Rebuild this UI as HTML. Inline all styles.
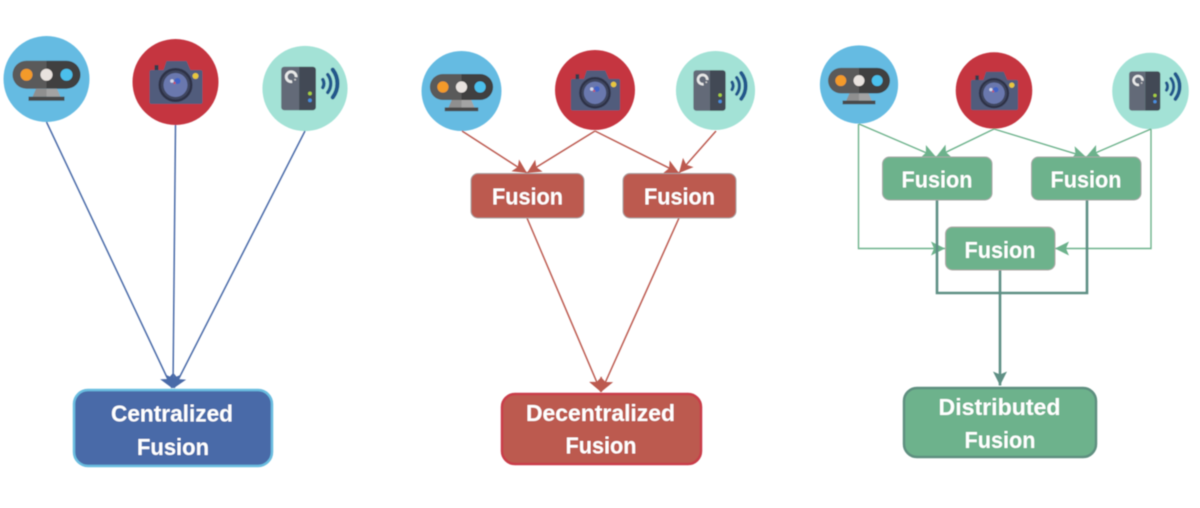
<!DOCTYPE html>
<html>
<head>
<meta charset="utf-8">
<style>
html,body{margin:0;padding:0;background:#fff;width:1200px;height:508px;overflow:hidden}
svg{display:block}
text{font-family:"Liberation Sans",sans-serif;font-weight:700;fill:#fff;text-anchor:middle}
</style>
</head>
<body>
<svg width="1200" height="508" viewBox="0 0 1200 508" xmlns="http://www.w3.org/2000/svg">
<defs>
<filter id="s" x="-5%" y="-5%" width="110%" height="110%"><feGaussianBlur stdDeviation="0.45"/></filter>
<marker id="ab" markerUnits="userSpaceOnUse" markerWidth="20" markerHeight="20" refX="13" refY="10" orient="auto"><path d="M0 3L13 10L0 17L3 10Z" fill="#4a6aa8"/></marker>
<marker id="ar" markerUnits="userSpaceOnUse" markerWidth="16" markerHeight="16" refX="14" refY="8" orient="auto"><path d="M0 1L14 8L0 15L3 8Z" fill="#bc5a50"/></marker>
<marker id="ag" markerUnits="userSpaceOnUse" markerWidth="16" markerHeight="16" refX="14" refY="8" orient="auto"><path d="M0 1L14 8L0 15L3 8Z" fill="#6db28c"/></marker>
<marker id="ad" markerUnits="userSpaceOnUse" markerWidth="16" markerHeight="16" refX="14" refY="8" orient="auto"><path d="M0 1L14 8L0 15L3 8Z" fill="#5f9085"/></marker>
<g id="kin">
<circle r="43" fill="#65bbe2"/>
<path d="M0-18.300H-20A14 14 0 0 0-20 9.700H0Z" fill="#5a5a5a"/>
<path d="M0-18.300H20A14 14 0 0 1 20 9.700H0Z" fill="#3f3f3f"/>
<circle cx="-20" cy="-4.300" r="6" fill="#f39a2b"/>
<circle cx="0" cy="-4.300" r="6" fill="#e8e2de"/>
<circle cx="20" cy="-4.300" r="6" fill="#4cc0ec"/>
<path d="M-10.500 9.700H0V17.700H-14Z" fill="#8f8f8f"/>
<path d="M0 9.700H10.500L14 17.700H0Z" fill="#a3a3a3"/>
<rect x="-18" y="17.700" width="36" height="4" fill="#4a4a4a"/>
</g>
<g id="cam">
<circle r="43" fill="#c53540"/>
<rect x="-21" y="-17" width="4" height="6" fill="#343a4c"/>
<path d="M-12-12L-9-21H11L15-12Z" fill="#515b7c"/>
<rect x="-26" y="-12" width="53" height="34" rx="2" fill="#515b7c"/>
<circle cx="0" cy="3" r="17" fill="#2e3346"/>
<circle cx="0" cy="3" r="14.500" fill="#3f4660"/>
<circle cx="0" cy="3" r="12" fill="#6a78ae"/>
<circle cx="2" cy="-1" r="3" fill="#3f63c8"/>
<circle cx="-3.500" cy="-1" r="1.800" fill="#d6d8ea"/>
<circle cx="-1" cy="1" r="1.200" fill="#c8506a"/>
<circle cx="20" cy="-6" r="3" fill="#e8c83c"/>
</g>
<g id="wifi">
<circle r="43" fill="#a3e2d6"/>
<path d="M-21-22H-6V22H-21A3 3 0 0 1-24 19V-19A3 3 0 0 1-21-22Z" fill="#646a78"/>
<path d="M-6-22H8A3 3 0 0 1 11-19V19A3 3 0 0 1 8 22H-6Z" fill="#434a54"/>
<path d="M-9-11.500A5 5 0 1 0-13-7" fill="none" stroke="#e8e8e8" stroke-width="2.800"/>
<circle cx="-10" cy="-9" r="1" fill="#c8c8c8"/>
<circle cx="5" cy="5" r="1.900" fill="#a8d040"/>
<circle cx="5" cy="12" r="1.900" fill="#4a90e0"/>
<g fill="none" stroke="#20598c" stroke-linecap="round">
<path d="M18-9A8 8 0 0 1 18-1" stroke-width="3.500"/>
<path d="M23-14A15 15 0 0 1 23 4" stroke-width="3.500"/>
<path d="M28-19A23 23 0 0 1 28 9" stroke-width="4.200"/>
</g>
</g>
</defs>

<g filter="url(#s)">
<!-- Centralized -->
<use href="#kin" transform="translate(46.5 79)"/>
<use href="#cam" transform="translate(175.500 82)"/>
<use href="#wifi" transform="translate(305 88.500) scale(.99)"/>
<g stroke="#4a6aa8" stroke-width="1.500" fill="none">
<path d="M46.500 122L172 388" marker-end="url(#ab)"/>
<path d="M175.500 125L173 388" marker-end="url(#ab)"/>
<path d="M305 131L174 388" marker-end="url(#ab)"/>
</g>
<rect x="74" y="390" width="198" height="76" rx="14" fill="#4a6aa8" stroke="#6bbde0" stroke-width="2.500"/>
<text x="172" y="421.500" font-size="23" textLength="122" lengthAdjust="spacingAndGlyphs">Centralized</text>
<text x="173" y="455" font-size="23" textLength="72" lengthAdjust="spacingAndGlyphs">Fusion</text>

<!-- Decentralized -->
<use href="#kin" transform="translate(461.500 91) scale(.93)"/>
<use href="#cam" transform="translate(595 90) scale(.93)"/>
<use href="#wifi" transform="translate(715.500 90.500) scale(.92)"/>
<g stroke="#bc5a50" stroke-width="1.500" fill="none">
<path d="M462 131L527 173" marker-end="url(#ar)"/>
<path d="M595 131L527 173" marker-end="url(#ar)"/>
<path d="M595 131L679 173" marker-end="url(#ar)"/>
<path d="M716 131L679 173" marker-end="url(#ar)"/>
<path d="M527 218L601 392" marker-end="url(#ar)"/>
<path d="M679 218L601 392" marker-end="url(#ar)"/>
</g>
<rect x="471" y="173.500" width="113" height="44.500" rx="7" fill="#bc5a50" stroke="#a8a0a0" stroke-width="1"/>
<rect x="623" y="173.500" width="113" height="44.500" rx="7" fill="#bc5a50" stroke="#a8a0a0" stroke-width="1"/>
<text x="527.500" y="204.500" font-size="23" textLength="71" lengthAdjust="spacingAndGlyphs">Fusion</text>
<text x="679.500" y="204.500" font-size="23" textLength="71" lengthAdjust="spacingAndGlyphs">Fusion</text>
<rect x="502" y="394" width="199" height="70" rx="13" fill="#bc5a50" stroke="#c93c4a" stroke-width="2.500"/>
<text x="600.500" y="421" font-size="23" textLength="149" lengthAdjust="spacingAndGlyphs">Decentralized</text>
<text x="601" y="453.500" font-size="23" textLength="71" lengthAdjust="spacingAndGlyphs">Fusion</text>

<!-- Distributed -->
<use href="#kin" transform="translate(859 84.500) scale(.91)"/>
<use href="#cam" transform="translate(994 90.500) scale(.89)"/>
<use href="#wifi" transform="translate(1150.500 91) scale(.89)"/>
<g stroke="#6db28c" stroke-width="1.400" fill="none">
<path d="M859 124L936 157" marker-end="url(#ag)"/>
<path d="M994 129L936 157" marker-end="url(#ag)"/>
<path d="M994 129L1086 157" marker-end="url(#ag)"/>
<path d="M1151 129L1086 157" marker-end="url(#ag)"/>
<path d="M858.500 124V248.500H945" marker-end="url(#ag)"/>
<path d="M1151 129V248.500H1055" marker-end="url(#ag)"/>
</g>
<path d="M937 200V293H1087V200" fill="none" stroke="#5f9085" stroke-width="2.600"/>
<path d="M1000 270V385.500" fill="none" stroke="#5f9085" stroke-width="2.600" marker-end="url(#ad)"/>
<rect x="882.500" y="157" width="109.500" height="43" rx="7" fill="#6db28c" stroke="#a8a8a8" stroke-width="1"/>
<rect x="1031.500" y="157" width="109.500" height="43" rx="7" fill="#6db28c" stroke="#a8a8a8" stroke-width="1"/>
<rect x="945.500" y="227" width="109.500" height="43" rx="7" fill="#6db28c" stroke="#b0a8a8" stroke-width="1"/>
<text x="937" y="187.500" font-size="23" textLength="71" lengthAdjust="spacingAndGlyphs">Fusion</text>
<text x="1086" y="187.500" font-size="23" textLength="71" lengthAdjust="spacingAndGlyphs">Fusion</text>
<text x="1000" y="258" font-size="23" textLength="71" lengthAdjust="spacingAndGlyphs">Fusion</text>
<rect x="904" y="388" width="192" height="69" rx="13" fill="#6db28c" stroke="#5f8f80" stroke-width="2.500"/>
<text x="999.500" y="415" font-size="23" textLength="122" lengthAdjust="spacingAndGlyphs">Distributed</text>
<text x="1000" y="448" font-size="23" textLength="71" lengthAdjust="spacingAndGlyphs">Fusion</text>
</g>
</svg>
</body>
</html>
